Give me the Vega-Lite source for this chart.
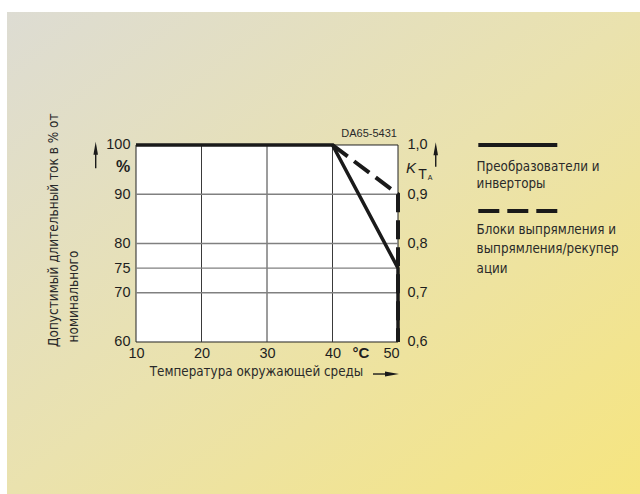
{
  "$schema": "https://vega.github.io/schema/vega-lite/v6.json",
  "width": 633,
  "height": 482,
  "autosize": "none",
  "padding": {"left": 7, "top": 12, "right": 0, "bottom": 0},
  "background": "white",
  "view": {
    "fill": {"gradient": "linear", "x1": 0, "y1": 0, "x2": 1, "y2": 1,
      "stops": [{"offset": 0, "color": "#dddcd3"}, {"offset": 0.5, "color": "#eae2ae"}, {"offset": 1, "color": "#f6e580"}]},
    "stroke": null
  },
  "config": {"font": "Liberation Sans"},
  "datasets": {
    "frame": [{"t": 10, "t2": 50, "v": 60, "v2": 100}],
    "vgrid": [{"t": 20, "v": 60, "v2": 100}, {"t": 30, "v": 60, "v2": 100}, {"t": 40, "v": 60, "v2": 100}],
    "hgrid": [{"t": 10, "t2": 50, "v": 90}, {"t": 10, "t2": 50, "v": 80}, {"t": 10, "t2": 50, "v": 75}, {"t": 10, "t2": 50, "v": 70}],
    "solid": [{"o": 1, "t": 10, "v": 100}, {"o": 2, "t": 40, "v": 100}, {"o": 3, "t": 50, "v": 75}, {"o": 4, "t": 50, "v": 60}],
    "dashed": [{"o": 1, "t": 40, "v": 100}, {"o": 2, "t": 50, "v": 90}, {"o": 3, "t": 50, "v": 60}],
    "shafts": [{"t": 3.847, "t2": 3.847, "v": 95.27, "v2": 99.0}, {"t": 55.76, "t2": 55.76, "v": 95.59, "v2": 98.9}, {"t": 46.18, "t2": 48.2, "v": 53.5, "v2": 53.5}],
    "upHeads": [{"t": 3.847, "v": 99.35}, {"t": 55.76, "v": 99.23}],
    "rightHeads": [{"t": 49.08, "v": 53.5}],
    "legendSolid": [{"t": 62.26, "t2": 74.32, "v": 100.0}],
    "legendDashed": [{"t": 62.26, "t2": 74.32, "v": 86.6}],
    "legendText": [
      {"label": "Преобразователи и", "t": 62.0, "v": 94.78},
      {"label": "инверторы", "t": 62.0, "v": 91.21},
      {"label": "Блоки выпрямления и", "t": 62.0, "v": 81.93},
      {"label": "выпрямления/рекупер", "t": 62.0, "v": 78.01},
      {"label": "ации", "t": 62.0, "v": 74.07}
    ],
    "xTitle": [{"label": "Температура окружающей среды", "t": 28.4, "v": 53.1}],
    "yTitle": [
      {"label": "Допустимый длительный ток в % от", "t": -1.86, "v": 58.98},
      {"label": "номинального", "t": 1.19, "v": 59.9}
    ],
    "pct": [{"label": "%", "t": 8.015, "v": 95.53}],
    "degC": [{"label": "°C", "t": 44.35, "v": 56.75}],
    "kK": [{"label": "K", "t": 51.21, "v": 94.25}],
    "kT": [{"label": "T", "t": 53.1, "v": 93.04}],
    "kA": [{"label": "A", "t": 54.53, "v": 92.89}],
    "code": [{"label": "DA65-5431", "t": 49.84, "v": 101.56}]
  },
  "encoding": {
    "x": {"field": "t", "type": "quantitative", "scale": {"domain": [-9.695, 86.946], "nice": false, "zero": false}, "axis": null},
    "y": {"field": "v", "type": "quantitative", "scale": {"domain": [29.137, 127.005], "nice": false, "zero": false}, "axis": null}
  },
  "layer": [
    {
      "data": {"name": "frame"},
      "mark": {"type": "rect", "fill": "white", "stroke": "#222222", "strokeWidth": 1},
      "encoding": {"x2": {"field": "t2"}, "y2": {"field": "v2"}}
    },
    {
      "data": {"name": "vgrid"},
      "mark": {"type": "rule", "stroke": "#3a3a3a", "strokeWidth": 1},
      "encoding": {"y2": {"field": "v2"}}
    },
    {
      "data": {"name": "hgrid"},
      "mark": {"type": "rule", "stroke": "#808080", "strokeWidth": 1.3},
      "encoding": {"x2": {"field": "t2"}}
    },
    {
      "data": {"name": "solid"},
      "mark": {"type": "line", "stroke": "#1a1a1a", "strokeWidth": 3.5, "strokeJoin": "miter", "strokeCap": "butt"},
      "encoding": {
        "order": {"field": "o", "type": "quantitative"},
        "x": {"field": "t", "type": "quantitative", "scale": {"domain": [-9.695, 86.946], "nice": false, "zero": false},
          "axis": {"orient": "bottom", "values": [10, 20, 30, 40, 50], "offset": -152, "domain": false, "ticks": false, "grid": false, "title": null,
            "labelFontSize": 14.5, "labelColor": "#1e1e1e", "labelPadding": 4, "labelFlush": false, "labelOverlap": false,
            "labelOffset": {"condition": {"test": "datum.value === 50", "value": -7}, "value": 0}}},
        "y": {"field": "v", "type": "quantitative", "scale": {"domain": [29.137, 127.005], "nice": false, "zero": false},
          "axis": {"orient": "left", "values": [100, 90, 80, 75, 70, 60], "offset": -129, "domain": false, "ticks": false, "grid": false, "title": null,
            "labelFontSize": 14.5, "labelColor": "#1e1e1e", "labelPadding": 6, "labelFlush": false, "labelOverlap": false}}
      }
    },
    {
      "data": {"name": "dashed"},
      "mark": {"type": "line", "stroke": "#1a1a1a", "strokeWidth": 4, "strokeDash": [19, 8], "strokeCap": "butt"},
      "encoding": {
        "order": {"field": "o", "type": "quantitative"},
        "y": {"field": "v", "type": "quantitative", "scale": {"domain": [29.137, 127.005], "nice": false, "zero": false},
          "axis": {"orient": "right", "values": [100, 90, 80, 70, 60], "offset": -242, "domain": false, "ticks": false, "grid": false, "title": null,
            "labelExpr": "replace(format(datum.value / 100, '.1f'), '.', ',')",
            "labelFontSize": 14.5, "labelColor": "#1e1e1e", "labelPadding": 9, "labelFlush": false, "labelOverlap": false}}
      }
    },
    {
      "data": {"name": "shafts"},
      "mark": {"type": "rule", "stroke": "#1a1a1a", "strokeWidth": 1.4},
      "encoding": {"x2": {"field": "t2"}, "y2": {"field": "v2"}}
    },
    {
      "data": {"name": "upHeads"},
      "mark": {"type": "point", "shape": "M0,-1L0.35,1L-0.35,1Z", "size": 169, "filled": true, "fill": "#1a1a1a", "stroke": null, "opacity": 1}
    },
    {
      "data": {"name": "rightHeads"},
      "mark": {"type": "point", "shape": "M1,0L-1,-0.36L-1,0.36Z", "size": 196, "filled": true, "fill": "#1a1a1a", "stroke": null, "opacity": 1}
    },
    {
      "data": {"name": "legendSolid"},
      "mark": {"type": "rule", "stroke": "#1a1a1a", "strokeWidth": 4, "strokeCap": "butt"},
      "encoding": {"x2": {"field": "t2"}}
    },
    {
      "data": {"name": "legendDashed"},
      "mark": {"type": "rule", "stroke": "#1a1a1a", "strokeWidth": 4, "strokeDash": [21, 8], "strokeCap": "butt"},
      "encoding": {"x2": {"field": "t2"}}
    },
    {
      "data": {"name": "legendText"},
      "mark": {"type": "text", "font": "DejaVu Sans Condensed, Liberation Sans, sans-serif", "fontSize": 13.3, "align": "left", "baseline": "alphabetic", "color": "#2a2a2a"},
      "encoding": {"text": {"field": "label"}}
    },
    {
      "data": {"name": "xTitle"},
      "mark": {"type": "text", "font": "DejaVu Sans Condensed, Liberation Sans, sans-serif", "fontSize": 13.3, "align": "center", "baseline": "alphabetic", "color": "#2a2a2a"},
      "encoding": {"text": {"field": "label"}}
    },
    {
      "data": {"name": "yTitle"},
      "mark": {"type": "text", "font": "DejaVu Sans Condensed, Liberation Sans, sans-serif", "fontSize": 13.5, "angle": 270, "align": "left", "baseline": "alphabetic", "color": "#2a2a2a"},
      "encoding": {"text": {"field": "label"}}
    },
    {
      "data": {"name": "pct"},
      "mark": {"type": "text", "fontSize": 16, "fontWeight": "bold", "align": "center", "baseline": "middle", "color": "#1e1e1e"},
      "encoding": {"text": {"field": "label"}}
    },
    {
      "data": {"name": "degC"},
      "mark": {"type": "text", "fontSize": 15, "fontWeight": "bold", "align": "center", "baseline": "alphabetic", "color": "#1e1e1e"},
      "encoding": {"text": {"field": "label"}}
    },
    {
      "data": {"name": "kK"},
      "mark": {"type": "text", "fontSize": 15, "fontStyle": "italic", "align": "left", "baseline": "alphabetic", "color": "#1e1e1e"},
      "encoding": {"text": {"field": "label"}}
    },
    {
      "data": {"name": "kT"},
      "mark": {"type": "text", "fontSize": 14, "align": "left", "baseline": "alphabetic", "color": "#1e1e1e"},
      "encoding": {"text": {"field": "label"}}
    },
    {
      "data": {"name": "kA"},
      "mark": {"type": "text", "fontSize": 7, "align": "left", "baseline": "alphabetic", "color": "#1e1e1e"},
      "encoding": {"text": {"field": "label"}}
    },
    {
      "data": {"name": "code"},
      "mark": {"type": "text", "fontSize": 11, "align": "right", "baseline": "alphabetic", "color": "#2a2a2a"},
      "encoding": {"text": {"field": "label"}}
    }
  ],
  "resolve": {"axis": {"x": "independent", "y": "independent"}}
}
